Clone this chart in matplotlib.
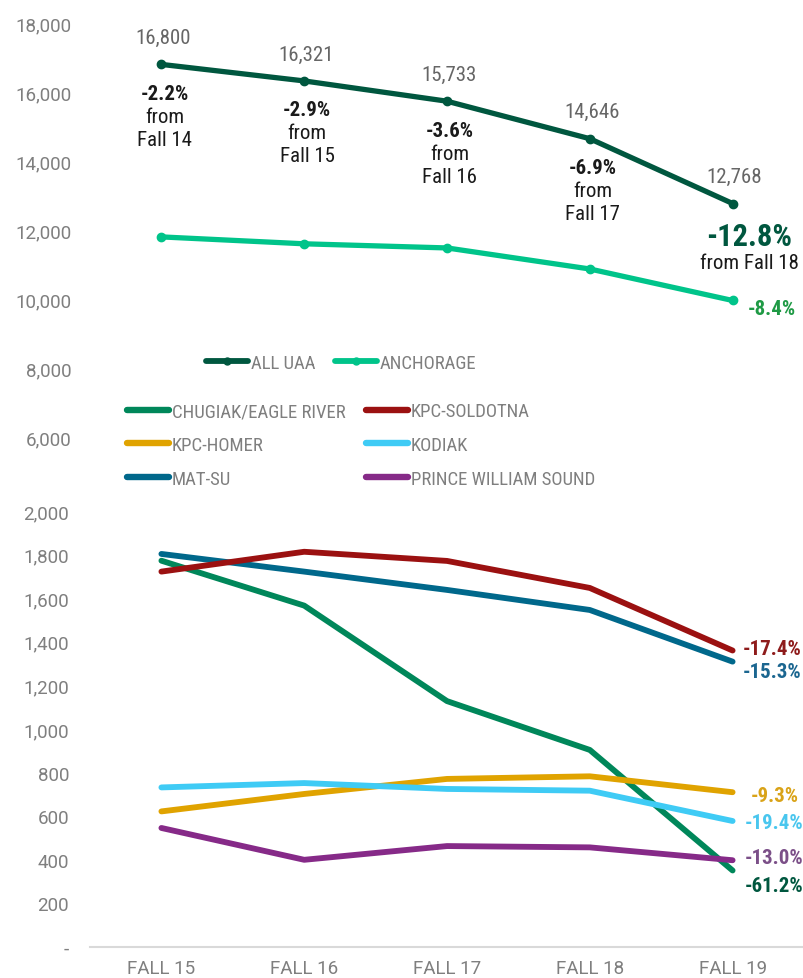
import matplotlib
matplotlib.use("Agg")
import matplotlib.pyplot as plt
from matplotlib import font_manager as fm
from matplotlib.lines import Line2D

# ---------------- data ----------------
terms = ["FALL 15", "FALL 16", "FALL 17", "FALL 18", "FALL 19"]
all_uaa = [16800, 16321, 15733, 14646, 12768]
all_uaa_labels = ["16,800", "16,321", "15,733", "14,646", "12,768"]
all_uaa_pct = ["-2.2%", "-2.9%", "-3.6%", "-6.9%", "-12.8%"]
all_uaa_from = ["Fall 14", "Fall 15", "Fall 16", "Fall 17", "Fall 18"]
anchorage = [11800, 11600, 11480, 10870, 9957]
anchorage_pct = "-8.4%"

campus_names = ["CHUGIAK/EAGLE RIVER", "KPC-HOMER", "MAT-SU",
                "KPC-SOLDOTNA", "KODIAK", "PRINCE WILLIAM SOUND"]
chugiak = [1772, 1566, 1128, 904, 351]
kpc_homer = [622, 702, 771, 783, 710]
mat_su = [1803, 1722, 1638, 1546, 1309]
kpc_soldotna = [1722, 1813, 1771, 1647, 1360]
kodiak = [732, 752, 725, 717, 578]
pws = [546, 400, 463, 457, 398]
campus_values = [chugiak, kpc_homer, mat_su, kpc_soldotna, kodiak, pws]
campus_pct = ["-61.2%", "-9.3%", "-15.3%", "-17.4%", "-19.4%", "-13.0%"]

top_ticks = [6000, 8000, 10000, 12000, 14000, 16000, 18000]
bottom_ticks = [0, 200, 400, 600, 800, 1000, 1200, 1400, 1600, 1800, 2000]

# ---------------- styles ----------------
C_ALL = "#00573F"
C_ANC = "#00C48A"
campus_colors = ["#00875A", "#E0A300", "#00688B", "#9B1111", "#3FCBF5", "#862A88"]
campus_label_colors = ["#00573F", "#D9A318", "#1B6690", "#8E1B1B", "#49C6EE", "#7B4F88"]
label_offsets = [(12, -15), (18, -3), (10, -10), (10, 2), (12, -2), (12, 3)]
GRAY = "#7F7F7F"


def pick_font(bold=False):
    names = {f.name for f in fm.fontManager.ttflist}
    for fam in ["Roboto Condensed", "Liberation Sans Narrow", "Open Sans Condensed",
                "Noto Sans Condensed", "Arial Narrow"]:
        if fam in names:
            return fm.FontProperties(family=fam, weight="bold" if bold else "normal")
    cands = []
    for f in fm.fontManager.ttflist:
        st = str(f.stretch).lower()
        if f.name in ("Roboto", "Noto Sans", "Open Sans", "DejaVu Sans") and \
                ("condensed" in st or "narrow" in st or
                 "condensed" in f.fname.lower()):
            w = f.weight if isinstance(f.weight, int) else (700 if "bold" in str(f.weight) else 400)
            if "italic" in f.style or "oblique" in f.style:
                continue
            cands.append((abs(w - (700 if bold else 400)), f.fname))
    if cands:
        cands.sort()
        return fm.FontProperties(fname=cands[0][1])
    return fm.FontProperties(family="Roboto", weight="bold" if bold else "normal")


COND = pick_font(False)
COND_B = pick_font(True)
LEG_FONT = COND.copy()
LEG_FONT.set_size(13.5)

plt.rcParams["font.family"] = ["Roboto", "DejaVu Sans"]

W, H = 804, 979
fig = plt.figure(figsize=(W / 100, H / 100), dpi=100)

ax_left = 90 / W
ax_w = 714 / W
ax_top = fig.add_axes([ax_left, (H - 438) / H, ax_w, 414 / H])
ax_bot = fig.add_axes([ax_left, (H - 948) / H, ax_w, 436 / H])

x = list(range(len(terms)))

# ---------------- top axes ----------------
ax_top.plot(x, all_uaa, color=C_ALL, lw=3.8, marker="o", ms=6, clip_on=False,
            solid_capstyle="round", zorder=3)
ax_top.plot(x, anchorage, color=C_ANC, lw=3.8, marker="o", ms=6, clip_on=False,
            solid_capstyle="round", zorder=3)
ax_top.set_xlim(-0.5, 4.5)
ax_top.set_ylim(6000, 18000)
ax_top.set_yticks(top_ticks)
ax_top.set_yticklabels([f"{t:,}" for t in top_ticks])
ax_top.set_xticks([])
for s in ax_top.spines.values():
    s.set_visible(False)
ax_top.tick_params(axis="y", length=0, pad=13, labelsize=13.5, labelcolor=GRAY)
ax_top.patch.set_alpha(0)

for i, (v, lab, pct, frm) in enumerate(zip(all_uaa, all_uaa_labels, all_uaa_pct, all_uaa_from)):
    ax_top.annotate(lab, (i, v), xytext=(2, 27), textcoords="offset pixels",
                    ha="center", va="center", fontproperties=COND, fontsize=15, color="#666666")
    if i < len(all_uaa) - 1:
        ax_top.annotate(pct, (i, v), xytext=(3, -29), textcoords="offset pixels",
                        ha="center", va="center", fontproperties=COND_B, fontsize=15, color="#1A1A1A")
        ax_top.annotate("from", (i, v), xytext=(3, -52), textcoords="offset pixels",
                        ha="center", va="center", fontproperties=COND, fontsize=15, color="#1A1A1A")
        ax_top.annotate(frm, (i, v), xytext=(3, -75), textcoords="offset pixels",
                        ha="center", va="center", fontproperties=COND, fontsize=15, color="#1A1A1A")
    else:
        ax_top.annotate(pct, (i, v), xytext=(17, -32), textcoords="offset pixels",
                        ha="center", va="center", fontproperties=COND_B, fontsize=22, color=C_ALL)
        ax_top.annotate("from " + frm, (i, v), xytext=(17, -59), textcoords="offset pixels",
                        ha="center", va="center", fontproperties=COND, fontsize=15, color="#1A1A1A")

ax_top.annotate(anchorage_pct, (4, anchorage[-1]), xytext=(15, -8), textcoords="offset pixels",
                ha="left", va="center", fontproperties=COND_B, fontsize=15, color="#1F9A45")

# ---------------- bottom axes ----------------
for vals, col in zip(campus_values, campus_colors):
    ax_bot.plot(x, vals, color=col, lw=4.2, solid_capstyle="round", clip_on=False, zorder=3)
for i, (vals, pct, lc) in enumerate(zip(campus_values, campus_pct, campus_label_colors)):
    dx, dy = label_offsets[i]
    ax_bot.annotate(pct, (4, vals[-1]), xytext=(dx, dy), textcoords="offset pixels",
                    ha="left", va="center", fontproperties=COND_B, fontsize=15, color=lc)

ax_bot.set_xlim(-0.5, 4.5)
ax_bot.set_ylim(0, 2000)
ax_bot.set_yticks(bottom_ticks)
ax_bot.set_yticklabels(["-" if t == 0 else f"{t:,}" for t in bottom_ticks])
ax_bot.set_xticks(x)
ax_bot.set_xticklabels(terms)
for k in ("top", "right", "left"):
    ax_bot.spines[k].set_visible(False)
ax_bot.spines["bottom"].set_color("#D9D9D9")
ax_bot.spines["bottom"].set_linewidth(1.5)
ax_bot.tick_params(axis="y", length=0, pad=15, labelsize=13.5, labelcolor=GRAY)
ax_bot.tick_params(axis="x", length=0, pad=9, labelsize=13.5, labelcolor=GRAY)
ax_bot.patch.set_alpha(0)

# ---------------- legends ----------------
def add_legend(handles, labels, x_px, y_px, spacing=0.84):
    leg = fig.legend(handles, labels, loc="center left",
                     bbox_to_anchor=(x_px / W, (H - y_px) / H), ncol=1, frameon=False,
                     prop=LEG_FONT, handlelength=2.25, handletextpad=0.15,
                     borderpad=0, borderaxespad=0, labelspacing=spacing,
                     labelcolor=GRAY)
    return leg


def top_handle(c):
    h = Line2D([0, 0.5, 1], [0, 0, 0], color=c, lw=4.2, marker="o", ms=5,
               markevery=[1], solid_capstyle="round")
    return h


add_legend([top_handle(C_ALL)], ["ALL UAA"], 206, 364)
add_legend([top_handle(C_ANC)], ["ANCHORAGE"], 335, 364)

h_bot = [Line2D([0], [0], color=c, lw=4.6, solid_capstyle="round") for c in campus_colors]
add_legend(h_bot[:3], campus_names[:3], 127, 446)
add_legend(h_bot[3:], campus_names[3:], 366, 446)

fig.savefig("out.png", dpi=100)
